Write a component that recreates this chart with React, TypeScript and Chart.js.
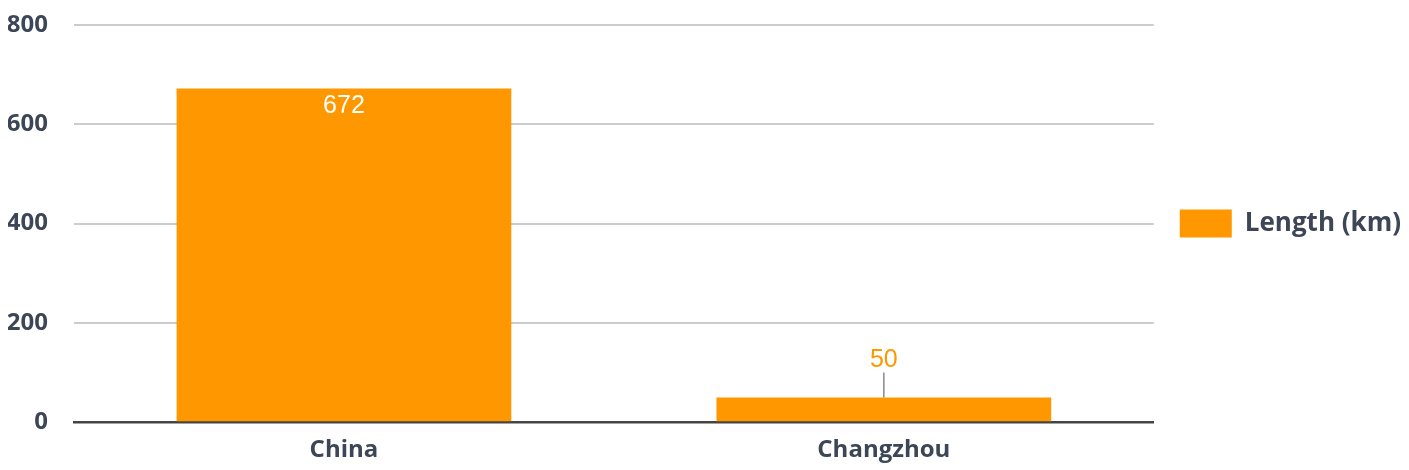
import React, { useEffect, useRef } from "react";
import { Chart, registerables } from "chart.js";

Chart.register(...registerables);

const categories = ["China", "Changzhou"];
const lengthKm = [672, 50];
const seriesLabel = "Length (km)";
const yTicks = [0, 200, 400, 600, 800];

const ORANGE = "#FF9800";
const TEXT = "#3d4656";

const dataLabelPlugin = {
  id: "dataLabels",
  afterDatasetsDraw(chart: any) {
    const ctx = chart.ctx;
    const meta = chart.getDatasetMeta(0);
    const ds = chart.data.datasets[0];
    ctx.save();
    ctx.font = "25px 'Liberation Sans', Arial, sans-serif";
    ctx.textAlign = "center";
    meta.data.forEach((bar: any, i: number) => {
      const v = ds.data[i];
      const h = bar.base - bar.y;
      if (h > 60) {
        ctx.fillStyle = "#ffffff";
        ctx.textBaseline = "middle";
        ctx.fillText(String(v), bar.x, bar.y + 18);
      } else {
        ctx.strokeStyle = "#888888";
        ctx.lineWidth = 1.5;
        ctx.beginPath();
        ctx.moveTo(bar.x, bar.y);
        ctx.lineTo(bar.x, bar.y - 25);
        ctx.stroke();
        ctx.fillStyle = ORANGE;
        ctx.textBaseline = "middle";
        ctx.fillText(String(v), bar.x, bar.y - 37);
      }
    });
    ctx.restore();
  },
};

export default function App() {
  const ref = useRef<HTMLCanvasElement>(null);
  useEffect(() => {
    if (!ref.current) return;
    const chart = new Chart(ref.current, {
      type: "bar",
      data: {
        labels: categories,
        datasets: [
          {
            label: seriesLabel,
            data: lengthKm,
            backgroundColor: ORANGE,
            categoryPercentage: 1,
            barPercentage: 0.62,
          },
        ],
      },
      options: {
        animation: false,
        responsive: true,
        maintainAspectRatio: false,
        layout: { padding: { top: 0, right: -10, left: 0, bottom: -1 } },
        plugins: {
          tooltip: { enabled: false },
          legend: {
            position: "right",
            fullSize: false,
            labels: {
              boxWidth: 52,
              boxHeight: 28,
              padding: 26,
              color: TEXT,
              font: { family: "'Open Sans'", size: 26, weight: "bold" },
            },
          },
        },
        scales: {
          x: {
            grid: { display: false },
            border: { display: true, color: "#444", width: 2.5 },
            ticks: {
              color: TEXT,
              padding: 6,
              font: { family: "'Open Sans'", size: 24, weight: "bold" },
            },
          },
          y: {
            min: 0,
            max: 800,
            afterBuildTicks: (scale: any) => {
              scale.ticks = yTicks.map((v) => ({ value: v }));
            },
            afterFit: (scale: any) => {
              scale.width = 66;
              scale.paddingTop = 17;
              scale.paddingBottom = 0;
            },
            border: { display: false },
            grid: {
              drawTicks: false,
              color: (c: any) => (c.tick && c.tick.value === 0 ? "#444" : "#cccccc"),
              lineWidth: 2,
            },
            ticks: {
              color: TEXT,
              padding: 26,
              font: { family: "'Open Sans'", size: 24, weight: "bold" },
            },
          },
        },
      },
      plugins: [dataLabelPlugin],
    });
    return () => chart.destroy();
  }, []);
  return (
    <div style={{ width: "100%", height: 462 }}>
      <canvas ref={ref} />
    </div>
  );
}
